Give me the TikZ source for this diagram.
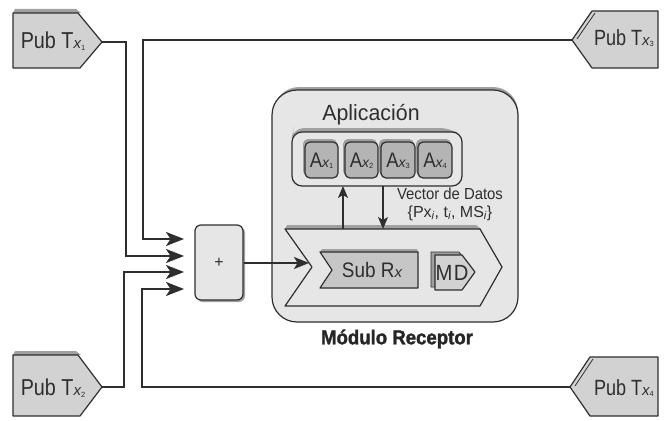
\documentclass[tikz,border=0pt]{standalone}
\usepackage{fontspec}
\setmainfont{Liberation Sans}
\newfontfamily\heavyfont[BoldFeatures={FakeBold=1.6}]{Liberation Sans}
\usetikzlibrary{arrows.meta,calc}

% italic subscript x with a small index
\newcommand\subxi[1]{{\fontsize{15}{15}\selectfont\itshape x}\raisebox{-1.5pt}{\fontsize{7.5}{7.5}\selectfont #1}}
\newcommand\subxa[1]{{\fontsize{14}{14}\selectfont\itshape x}\raisebox{-1.5pt}{\fontsize{7.5}{7.5}\selectfont #1}}

\definecolor{ink}{HTML}{2E2E2E}
\definecolor{panel}{HTML}{E6E6E6}
\definecolor{pubfill}{HTML}{D2D2D2}
\definecolor{bevel}{HTML}{A0A0A0}
\definecolor{afill}{HTML}{B4B4B4}
\definecolor{subfill}{HTML}{C6C6C6}

\tikzset{
  outline/.style={draw=ink, line width=1.2pt, line join=round},
  conn/.style={draw=ink, line width=2pt, line join=miter},
  bigarrow/.style={-{Stealth[length=18pt,width=14pt,inset=4.5pt]}},
  smallarrow/.style={-{Stealth[length=12pt,width=10pt,inset=3pt]}},
  label/.style={text=ink, inner sep=0pt},
}

\begin{document}
\begin{tikzpicture}[x=1pt,y=-1pt]
\useasboundingbox (0,0) rectangle (666,420);

% ---------- publisher tags (left side) ----------
\foreach \dy in {0,342}{
  \fill[bevel] ($(15,9)+(0,\dy)$) -- ($(76,9)+(0,\dy)$) -- ($(81,13)+(0,\dy)$) -- ($(13,13)+(0,\dy)$) -- cycle;
}
\path[outline, fill=pubfill] (13,13) -- (78,13) -- (102,42) -- (80,68) -- (13,68) -- cycle;
\path[outline, fill=pubfill] (13,355) -- (78,355) -- (102,387) -- (80,416) -- (13,416) -- cycle;
\coordinate (p1) at (102,42);
\coordinate (p2) at (102,387);
\node[label, font=\fontsize{23}{23}\selectfont] (t1) at (53,41) {\scalebox{0.86}[1]{Pub T}\subxi{1}};
\node[label, font=\fontsize{23}{23}\selectfont] (t2) at (53,388) {\scalebox{0.86}[1]{Pub T}\subxi{2}};

% ---------- publisher tags (right side) ----------
\path[outline, fill=pubfill] (572,40) -- (592,11) -- (658,11) -- (658,68) -- (592,68) -- cycle;
\draw[ink, line width=0.8pt] (577,39) -- (595,13);
\path[outline, fill=pubfill] (570,387) -- (590,357) -- (658,357) -- (658,416) -- (590,416) -- cycle;
\draw[ink, line width=0.8pt] (575,386) -- (593,359);
\coordinate (p3) at (572,40);
\coordinate (p4) at (570,387);
\node[label, font=\fontsize{22}{22}\selectfont] (t3) at (624,38) {\scalebox{0.82}[1]{Pub T}\subxi{3}};
\node[label, font=\fontsize{22}{22}\selectfont] (t4) at (624,388) {\scalebox{0.82}[1]{Pub T}\subxi{4}};

% ---------- summing block ----------
\fill[bevel, rounded corners=6pt] (197,227) rectangle (245,302);
\node[outline, fill=panel, rounded corners=6pt, minimum width=48pt, minimum height=75pt,
      inner sep=0pt, font=\fontsize{16}{16}\selectfont, text=ink] (sum) at (219,262.5) {+};

% arrow end points in front of the summing block
\coordinate (in1) at (184,239);
\coordinate (in2) at (184,256);
\coordinate (in3) at (184,272);
\coordinate (in4) at (184,289);

\draw[conn, bigarrow] (p3) -- ++(-429,0) |- (in1);
\draw[conn, bigarrow] (p1) -- ++(24,0) |- (in2);
\draw[conn, bigarrow] (p2) -- ++(22,0) |- (in3);
\draw[conn, bigarrow] (p4) -- ++(-428,0) |- (in4);

% ---------- receiver module ----------
\fill[bevel, rounded corners=25pt] (274,87) rectangle (518,320);
\path[outline, fill=panel, rounded corners=25pt] (272,90) rectangle (518,322);
\node[label, font=\heavyfont\bfseries\fontsize{20}{20}\selectfont, text=black!85] (mr) at (397,339) {\scalebox{0.93}[1]{Módulo Receptor}};

% application container
\node[label, font=\fontsize{22}{22}\selectfont] (apl) at (371,115) {\scalebox{0.97}[1]{Aplicación}};
\fill[bevel, rounded corners=10pt] (294,128) -- (450,128) -- (462,136) -- (462,182) -- (292,182) -- (292,136) -- cycle;
\path[outline, fill=panel, rounded corners=10pt] (292,132) rectangle (462,186);
\coordinate (appb1) at (343,186);
\coordinate (appb2) at (383,186);

% application boxes
\foreach \xa/\xb/\i in {305/338/1, 345/378/2, 381/415/3, 418/452/4}{
  \fill[bevel, rounded corners=5pt] (\xa-2,139) rectangle (\xb-1,176);
  \path[outline, fill=afill, rounded corners=5pt] (\xa,142) rectangle (\xb,178);
  \node[label, font=\fontsize{21}{21}\selectfont] (a\i) at ({(\xa+\xb)/2},161) {\scalebox{0.88}[1]{A}\subxa{\i}};
}

% receiver chevron
\fill[bevel] (287,225) -- (476,225) -- (481,229) -- (285,229) -- cycle;
\path[outline, fill=panel] (285,229) -- (480,229) -- (502,267) -- (480,306) -- (285,306) -- (312,267) -- cycle;
\coordinate (ch1) at (343,229);
\coordinate (ch2) at (383,229);
\coordinate (chin) at (309,263);

% subscriber block
\fill[bevel] (322,249) -- (417,249) -- (418,252) -- (320,252) -- cycle;
\path[outline, fill=subfill] (320,252) -- (418,252) -- (418,288) -- (320,288) -- (332,270) -- cycle;
\node[label, font=\fontsize{21}{21}\selectfont] (sub) at (372,270) {\scalebox{0.9}[1]{Sub R}{\fontsize{15}{15}\selectfont\itshape x}};

% data store block
\path[fill=bevel, draw=ink, line width=0.8pt] (431,252) -- (459,252) -- (472,270) -- (459,287) -- (431,287) -- cycle;
\path[outline, fill=pubfill] (435,255) -- (462,255) -- (475,272) -- (462,290) -- (435,290) -- cycle;
\node[label, font=\fontsize{22}{22}\selectfont] (md) at (452,273) {\scalebox{0.92}[1]{M\kern1.5pt D}};

% data vector label
\node[label, align=center, font=\fontsize{16}{18}\selectfont] (vd) at (450,204)
  {\scalebox{0.93}[1]{Vector de Datos}\\\{Px\textsubscript{\itshape i}, t\textsubscript{\itshape i}, MS\textsubscript{\itshape i}\}};

% internal connectors
\draw[ink, line width=1.4pt, smallarrow] (ch1) -- (appb1);
\draw[ink, line width=1.4pt, smallarrow] (appb2) -- (ch2);
\draw[ink, line width=1.4pt, -{Stealth[length=15pt,width=12pt,inset=3.5pt]}] (sum.east |- chin) -- (chin);
\end{tikzpicture}
\end{document}
